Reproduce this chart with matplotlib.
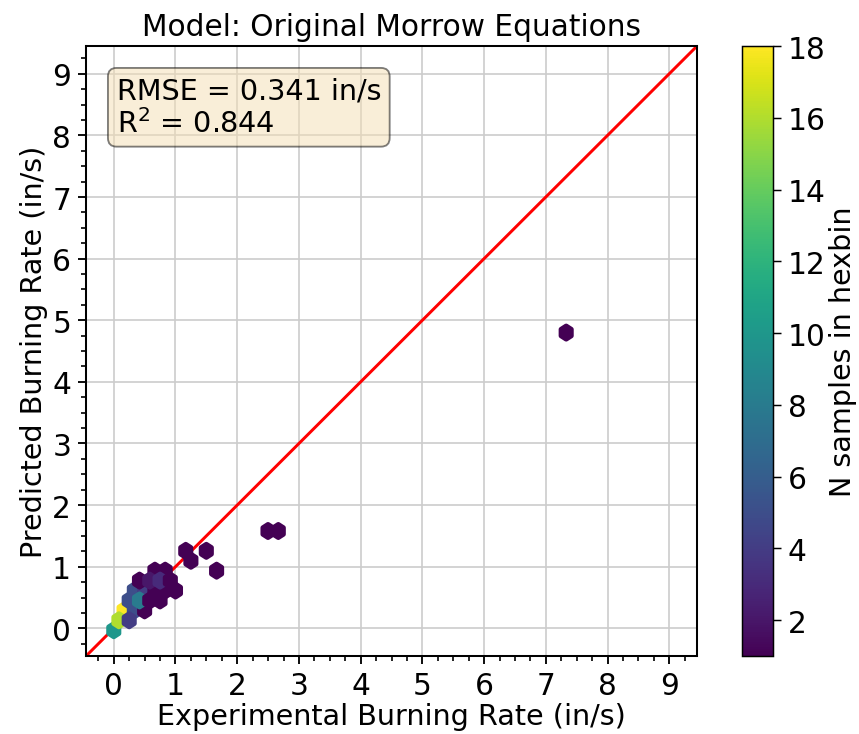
import numpy as np
import matplotlib
matplotlib.use('Agg')
import matplotlib.pyplot as plt
from matplotlib.ticker import MultipleLocator

# experimental vs predicted burning rate (in/s), one entry per occupied hexbin,
# with the number of samples that fell in that bin
exp_rate = [0.00,
            0.08, 0.25,
            0.17, 0.33, 0.50,
            0.25, 0.42, 0.58, 0.75,
            0.33, 0.50, 0.67, 0.83, 1.00,
            0.42, 0.58, 0.75, 0.92,
            0.67, 0.83, 1.67,
            1.25,
            1.17, 1.50,
            2.50, 2.67,
            7.33]
pred_rate = [-0.03,
             0.13, 0.13,
             0.29, 0.29, 0.29,
             0.45, 0.45, 0.45, 0.45,
             0.61, 0.61, 0.61, 0.61, 0.61,
             0.78, 0.78, 0.78, 0.78,
             0.94, 0.94, 0.94,
             1.10,
             1.26, 1.26,
             1.58, 1.58,
             4.80]
n_samples = [10,
             16, 4,
             18, 5, 1,
             5, 8, 1, 1,
             5, 4, 1, 1, 1,
             1, 2, 3, 1,
             1, 1, 1,
             1,
             1, 1,
             1, 1,
             1]

rmse = 0.341
r2 = 0.844
lims = [-0.45, 9.45]

if __name__ == "__main__":
    fig = plt.figure(figsize=(6.45, 5.5125), dpi=133.333)
    ax = fig.add_axes([0.100, 0.106, 0.7105, 0.830])
    cax = fig.add_axes([0.8628, 0.106, 0.036, 0.830])

    ax.set_axisbelow(True)
    ax.grid(True, which='major', color='#cccccc', lw=0.9)
    ax.plot(lims, lims, color='red', lw=1.6, zorder=2)
    hb = ax.hexbin(exp_rate, pred_rate, C=n_samples, reduce_C_function=np.sum,
                   gridsize=(44, 15), cmap='viridis', linewidths=2.6,
                   zorder=3)

    ax.set_xlim(lims)
    ax.set_ylim(lims)
    ax.xaxis.set_major_locator(MultipleLocator(1))
    ax.yaxis.set_major_locator(MultipleLocator(1))
    ax.xaxis.set_minor_locator(MultipleLocator(0.25))
    ax.yaxis.set_minor_locator(MultipleLocator(0.25))
    ax.tick_params(which='major', labelsize=16, length=4.5, width=1)
    ax.tick_params(which='minor', length=2.5, width=0.9)
    for s in ax.spines.values():
        s.set_linewidth(1.1)

    ax.set_title('Model: Original Morrow Equations', fontsize=16)
    ax.set_xlabel('Experimental Burning Rate (in/s)', fontsize=15.5, labelpad=1)
    ax.set_ylabel('Predicted Burning Rate (in/s)', fontsize=15.5, labelpad=2)

    txt = 'RMSE = %.3f in/s\nR$^2$ = %.3f' % (rmse, r2)
    ax.text(0.05, 0.95, txt, transform=ax.transAxes, fontsize=15.5, va='top',
            linespacing=1.15,
            bbox=dict(boxstyle='round', facecolor='wheat', alpha=0.5))

    cb = fig.colorbar(hb, cax=cax)
    cb.set_ticks(range(2, 19, 2))
    cb.ax.tick_params(labelsize=16, length=4.5)
    cb.set_label('N samples in hexbin', fontsize=15.5, labelpad=2)

    fig.savefig('out.png', dpi=133.333)
